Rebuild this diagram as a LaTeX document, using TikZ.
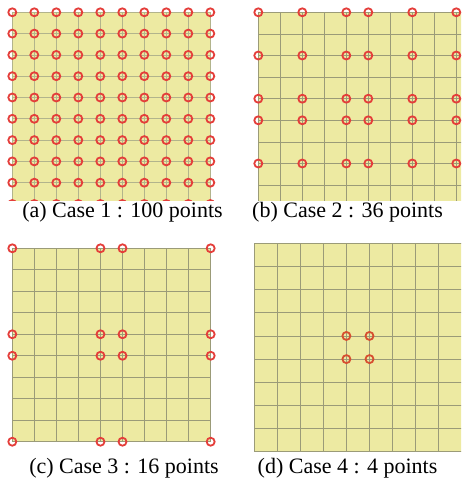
\documentclass[tikz,border=0pt]{standalone}
\usepackage{fontspec}
\setmainfont{Liberation Serif}
\begin{document}
\begin{tikzpicture}[x=1pt,y=-1pt,
  panelfill/.style={fill={rgb,255:red,237;green,234;blue,162}},
  gridline/.style={draw={rgb,255:red,155;green,155;blue,120},line width=0.8pt},
  gridlinea/.style={draw={rgb,255:red,178;green,180;blue,140},line width=0.8pt},
  pt/.style={draw={rgb,255:red,228;green,62;blue,58},line width=1.8pt},
  ptd/.style={draw={rgb,255:red,214;green,78;blue,48},line width=1.8pt},
  caption/.style={anchor=base,inner sep=0pt,font=\fontsize{22}{26}\selectfont}]
\useasboundingbox (0,0) rectangle (461,479);
% (a)
\begin{scope}
\clip (0,0) rectangle (230,200);
\fill[panelfill] (12.3,12.3) rectangle (210.5,205);
\foreach \i in {0,...,9}{
  \draw[gridlinea] (12.3+22*\i,12.3) -- (12.3+22*\i,205);
  \draw[gridlinea] (12.3,12.3+21.3*\i) -- (210.5,12.3+21.3*\i);
}
\foreach \i in {0,...,9}{\foreach \j in {0,...,9}{
  \draw[pt] (12.3+22*\i,12.3+21.3*\j) circle (4pt);
}}
\end{scope}
% (b)
\begin{scope}
\clip (230,0) rectangle (461,200);
\fill[panelfill] (258.3,12.3) rectangle (470,205);
\foreach \i in {0,...,9}{
  \draw[gridline] (258.3+22*\i,12.3) -- (258.3+22*\i,205);
  \draw[gridline] (258.3,12.3+21.6*\i) -- (470,12.3+21.6*\i);
}
\foreach \i in {0,2,4,5,7,9}{\foreach \j in {0,2,4,5,7,9}{
  \draw[pt] (258.3+22*\i,12.3+21.6*\j) circle (4pt);
}}
\end{scope}
% (c)
\fill[panelfill] (12.3,248.3) rectangle (210.7,441.7);
\foreach \i in {0,...,9}{
  \draw[gridline] (12.3+22.04*\i,248.3) -- (12.3+22.04*\i,441.7);
  \draw[gridline] (12.3,248.3+21.49*\i) -- (210.7,248.3+21.49*\i);
}
\foreach \i in {0,4,5,9}{\foreach \j in {0,4,5,9}{
  \draw[pt] (12.3+22.04*\i,248.3+21.49*\j) circle (4pt);
}}
% (d)
\begin{scope}
\clip (230,230) rectangle (461,479);
\fill[panelfill] (254,243.3) rectangle (462,451.7);
\foreach \i in {0,...,9}{
  \draw[gridline] (254+23.1*\i,243.3) -- (254+23.1*\i,451.7);
  \draw[gridline] (254,243.3+23.16*\i) -- (462,243.3+23.16*\i);
}
\foreach \i in {4,5}{\foreach \j in {4,5}{
  \draw[ptd] (254+23.1*\i,243.3+23.16*\j) circle (4pt);
}}
\end{scope}
% captions
\node[caption] (capa) at (122.5,217) {(a) Case 1 : 100 points};
\node[caption] (capb) at (347.5,217.5) {(b) Case 2 : 36 points};
\node[caption] (capc) at (124,473) {(c) Case 3 : 16 points};
\node[caption] (capd) at (347.5,473) {(d) Case 4 : 4 points};
\end{tikzpicture}
\end{document}
